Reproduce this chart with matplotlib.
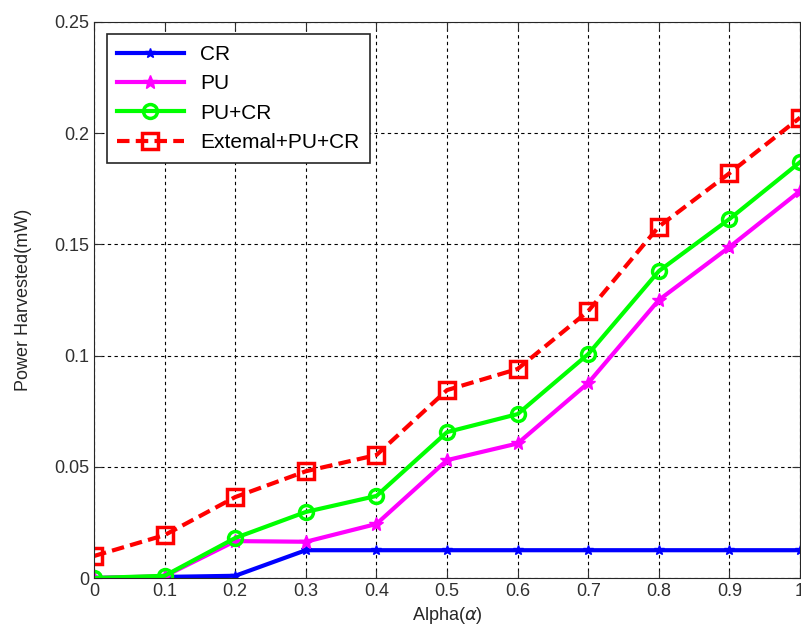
import numpy as np
import matplotlib.pyplot as plt

plt.rcParams['font.family'] = ['Liberation Sans', 'DejaVu Sans']

alpha = [0, 0.1, 0.2, 0.3, 0.4, 0.5, 0.6, 0.7, 0.8, 0.9, 1.0]
cr = [0, 0.0005, 0.001, 0.0125, 0.0125, 0.0125, 0.0125, 0.0125, 0.0125, 0.0125, 0.0125]
pu = [0, 0.0008, 0.0166, 0.0163, 0.0243, 0.053, 0.0605, 0.0877, 0.125, 0.1488, 0.174]
pu_cr = [0, 0.001, 0.018, 0.0297, 0.0369, 0.0656, 0.0737, 0.1007, 0.138, 0.1614, 0.187]
ext = [0.0099, 0.0193, 0.0364, 0.048, 0.0553, 0.0845, 0.094, 0.12, 0.158, 0.182, 0.207]

fig = plt.figure(figsize=(8.01, 6.37), dpi=100)
ax = fig.add_axes([0.1174, 0.0926, 0.8814, 0.8729])

ax.plot(alpha, cr, color='#0000ff', lw=3, marker='*', ms=7, label='CR')
ax.plot(alpha, pu, color='#ff00ff', lw=3, marker='*', ms=10, label='PU')
ax.plot(alpha, pu_cr, color='#00ff00', lw=3, marker='o', ms=10, mfc='none', mew=2.5, label='PU+CR')
ax.plot(alpha, ext, color='#ff0000', lw=3, ls=(0, (3, 1.5)), marker='s', ms=11, mfc='none', mew=2.5,
        label='Extemal+PU+CR')

ax.set_xlim(0, 1)
ax.set_ylim(0, 0.25)
ax.set_xticks(np.arange(0, 1.01, 0.1))
ax.set_xticklabels(['0', '0.1', '0.2', '0.3', '0.4', '0.5', '0.6', '0.7', '0.8', '0.9', '1'])
ax.set_yticks([0, 0.05, 0.1, 0.15, 0.2, 0.25])
ax.set_yticklabels(['0', '0.05', '0.1', '0.15', '0.2', '0.25'])
ax.grid(True, color='black', ls=(0, (3, 3)), lw=0.8)
ax.tick_params(direction='in', top=True, right=True, labelsize=13, length=6, colors='#303030')
for s in ax.spines.values():
    s.set_color('#262626')

ax.set_xlabel('Alpha($\\alpha$)', fontsize=13, color='#262626', labelpad=4)
ax.set_ylabel('Power Harvested(mW)', fontsize=13, color='#262626', labelpad=16)

leg = ax.legend(loc='upper left', fontsize=15, fancybox=False, edgecolor='#262626',
                framealpha=1, borderaxespad=0.6, handlelength=3.2, labelspacing=0.5,
                borderpad=0.5)
leg.get_frame().set_linewidth(1.2)

fig.savefig('out.png', dpi=100)
